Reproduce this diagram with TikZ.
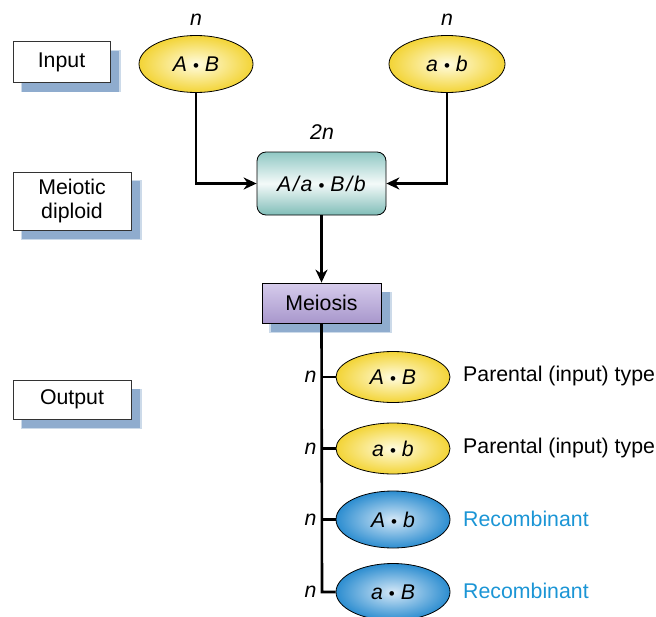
\documentclass[tikz,border=0pt]{standalone}
\usepackage{fontspec}
\setmainfont{Liberation Sans}
\usetikzlibrary{shapes.geometric,shadows,arrows.meta}
\definecolor{shadowblue}{RGB}{143,172,206}
\definecolor{yelout}{RGB}{243,212,54}
\definecolor{yelin}{RGB}{255,252,224}
\definecolor{bluout}{RGB}{44,141,208}
\definecolor{bluin}{RGB}{213,232,247}
\definecolor{tealtop}{RGB}{144,200,196}
\definecolor{tealmid}{RGB}{244,250,249}
\definecolor{tealbot}{RGB}{128,189,184}
\definecolor{purtop}{RGB}{214,204,236}
\definecolor{purbot}{RGB}{168,151,204}
\definecolor{recomb}{RGB}{27,149,213}
\newcommand{\dotsep}{\hspace{0.28em}{\fontsize{17}{20}\selectfont\upshape•}\hspace{0.28em}}
\newcommand{\slsh}{\hspace{0.08em}/\hspace{0.08em}}
\tikzset{
  txt/.style={font=\fontsize{21.3}{25}\selectfont},
  itxt/.style={font=\fontsize{21.3}{25}\selectfont\itshape},
  blueshadow/.style={
    drop shadow={shadow xshift=9pt,shadow yshift=-9pt,shadow scale=1.03,fill=shadowblue,opacity=0.45},
    drop shadow={shadow xshift=9pt,shadow yshift=-9pt,fill=shadowblue,opacity=1}},
  labelbox/.style={txt,draw=black!80,line width=0.8pt,fill=white,inner sep=0pt,align=center,blueshadow},
  yell/.style={ellipse,draw=black,line width=0.8pt,inner sep=0pt,itxt,shading=radial,inner color=yelin,outer color=yelout},
  blue/.style={ellipse,draw=black,line width=0.8pt,inner sep=0pt,itxt,shading=radial,inner color=bluin,outer color=bluout},
  conn/.style={line width=2.6pt,black},
  arr/.style={conn,-{Stealth[length=13pt,width=12pt]}}
}
\begin{document}
\begin{tikzpicture}[x=1pt,y=-1pt]
\useasboundingbox (0,0) rectangle (656,616);
% left labels
\node[labelbox,minimum width=97pt,minimum height=41pt] (input) at (61.5,62) {Input};
\node[labelbox,minimum width=118pt,minimum height=58pt,font=\fontsize{21.3}{24}\selectfont] (meiodip) at (72,201) {Meiotic\\diploid};
\node[labelbox,minimum width=118pt,minimum height=39pt] (output) at (72,399.5) {Output};
% input haploids
\node[yell,minimum width=114pt,minimum height=57pt] (AB) at (196,64) {A\dotsep B};
\node[yell,minimum width=116pt,minimum height=57pt] (ab) at (447,64) {a\dotsep b};
\node[itxt] (nAB) at (196,20) {n};
\node[itxt] (nab) at (447,20) {n};
% diploid
\node[draw=black,line width=0.8pt,rounded corners=9pt,minimum width=129pt,minimum height=63pt,
      top color=tealtop,bottom color=tealbot,middle color=tealmid,itxt,inner sep=0pt] (dip) at (321.5,183.5) {A\slsh a\dotsep B\slsh b};
\node[itxt] (n2) at (322,132) {2n};
% meiosis
\node[draw=black,line width=0.8pt,minimum width=119pt,minimum height=40pt,top color=purtop,bottom color=purbot,
      txt,inner sep=0pt,blueshadow] (meiosis) at (321.5,303) {Meiosis};
% connectors into diploid
\draw[arr] (AB.south) |- (dip.west);
\draw[arr] (ab.south) |- (dip.east);
\draw[arr] (dip.south) -- (meiosis.north);
% outputs
\node[yell,minimum width=114pt,minimum height=51pt] (o1) at (393,377) {A\dotsep B};
\node[yell,minimum width=114pt,minimum height=51pt] (o2) at (393,448.5) {a\dotsep b};
\node[blue,minimum width=114pt,minimum height=57pt] (o3) at (393,519.5) {A\dotsep b};
\node[blue,minimum width=114pt,minimum height=57pt] (o4) at (393,592) {a\dotsep B};
\coordinate (vbot) at (322,592);
\draw[conn] (meiosis.south) -- (vbot) -- (o4.west);
\draw[conn] (322,377) -- (o1.west);
\draw[conn] (322,448.5) -- (o2.west);
\draw[conn] (322,519.5) -- (o3.west);
\foreach \o in {o1,o2,o3,o4}{
  \node[itxt,anchor=east,inner sep=0pt] at ([xshift=-19pt]\o.west) {n};
}
\node[txt,anchor=west,inner sep=0pt] (t1) at (463,376) {Parental (input) type};
\node[txt,anchor=west,inner sep=0pt] (t2) at (463,447.5) {Parental (input) type};
\node[txt,anchor=west,text=recomb,inner sep=0pt] (t3) at (463,518.5) {Recombinant};
\node[txt,anchor=west,text=recomb,inner sep=0pt] (t4) at (463,591) {Recombinant};
\end{tikzpicture}
\end{document}
